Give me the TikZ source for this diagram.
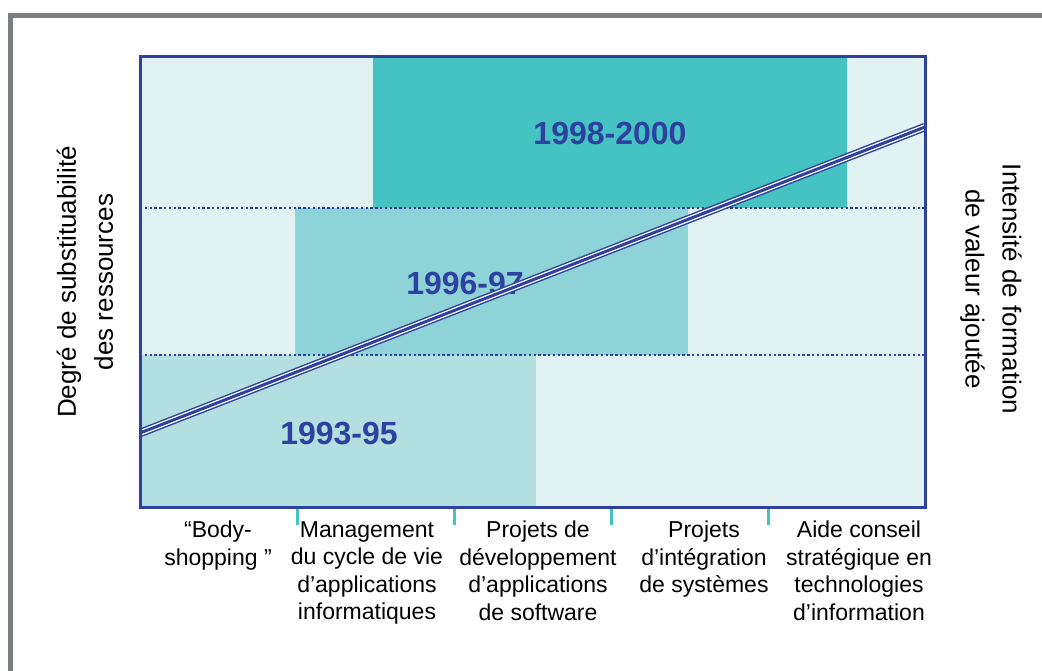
\documentclass[tikz,border=0pt]{standalone}
\usepackage{fontspec}
\setmainfont{Liberation Sans}
\definecolor{cadre}{RGB}{46,64,160}
\definecolor{fond}{RGB}{224,242,242}
\definecolor{clair}{RGB}{179,223,224}
\definecolor{moyen}{RGB}{141,211,215}
\definecolor{fonce}{RGB}{69,194,194}
\definecolor{bord}{RGB}{122,126,128}
\newcommand{\bande}[3]{
  \fill[#1] (#2) rectangle (#3);
}

\begin{document}
\begin{tikzpicture}[x = 1pt, y = -1pt, line join = miter]
  \tikzset{
    annee/.style = {text = cadre, inner sep = 0, font = \bfseries\fontsize{32}{32}\selectfont},
    colonne/.style = {anchor = north, align = center, inner sep = 0, font = \fontsize{23}{27.5}\selectfont},
    axe/.style = {align = center, inner sep = 0, font = \fontsize{26}{37}\selectfont}
  }
  \useasboundingbox (0, 0) rectangle (1042, 671);

  % cadre gris de la page
  \draw[bord, line width = 4.5] (10.5, 671) -- (10.5, 15.5) -- (1042, 15.5);

  \fill[fond] (140, 57) rectangle (925, 507);
  \bande{clair}{140, 355}{536, 507}
  \bande{moyen}{295, 208}{688, 355}
  \bande{fonce}{373, 57}{847, 208}

  \draw[cadre, line width = 2.6, dash pattern = on 2.4 off 2.4] (140, 208) -- (925, 208) (140, 355) -- (925, 355);

  \node[annee] (y9800) at (610, 133) {1998-2000};
  \node[annee] (y9697) at (465, 283) {1996-97};
  \node[annee] (y9395) at (339, 434) {1993-95};

  % droite triple
  \coordinate (lo) at (140, 433);
  \coordinate (hi) at (925, 127);
  \begin{scope}
    \clip (140, 57) rectangle (925, 507);
    \draw[cadre, line width = 8.5] (lo) -- (hi);
    \draw[white, line width = 5.6] (lo) -- (hi);
    \draw[cadre, line width = 3] (lo) -- (hi);
  \end{scope}

  \draw[cadre, line width = 3] (140, 57) rectangle (925, 507);

  \foreach \x in {297.5, 454.5, 611.5, 768.5}
    \draw[fonce, line width = 2.5] (\x, 508.5) -- (\x, 525);

  \node[colonne] (body) at (218, 521) {“Body-\\shopping ”};
  \node[colonne] (mgmt) at (367, 521) {Management\\du cycle de vie\\d’applications\\informatiques};
  \node[colonne] (devt) at (538, 521) {Projets de\\développement\\d’applications\\de software};
  \node[colonne] (integ) at (704, 521) {Projets\\d’intégration\\de systèmes};
  \node[colonne] (conseil) at (859, 521) {Aide conseil\\stratégique en\\technologies\\d’information};

  \node[axe, rotate = 90] (subst) at (85, 282) {Degré de substituabilité\\des ressources};
  \node[axe, rotate = -90] (intens) at (991, 289) {Intensité de formation\\de valeur ajoutée};
\end{tikzpicture}
\end{document}
